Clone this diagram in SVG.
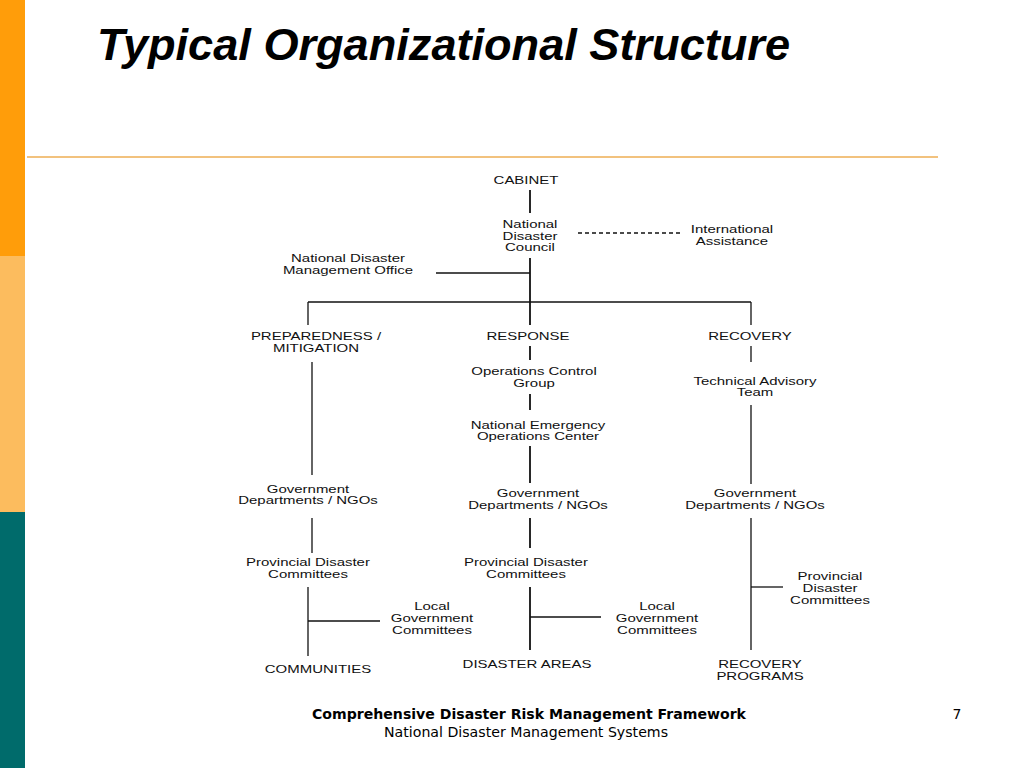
<svg xmlns="http://www.w3.org/2000/svg" width="1024" height="768" viewBox="0 0 1024 768">
<style>
.t{font-family:"Liberation Sans",Arial,sans-serif;font-size:11px;fill:#111;text-anchor:middle}
.c{stroke:#111;stroke-width:1.3;fill:none}
.k{stroke-width:1.8}
.d{stroke-dasharray:4 3}
</style>
<rect width="1024" height="768" fill="#fff"/>
<g id="sidebar">
<rect x="0" y="0" width="25" height="256" fill="#FF9D0A"/>
<rect x="0" y="256" width="25" height="256" fill="#FCBC5E"/>
<rect x="0" y="512" width="25" height="256" fill="#006B6B"/>
</g>
<text x="97" y="60" font-family="'Liberation Sans',Arial,sans-serif" font-size="45" font-weight="bold" font-style="italic" fill="#000" textLength="693" lengthAdjust="spacingAndGlyphs">Typical Organizational Structure</text>
<line x1="27" y1="157" x2="938" y2="157" stroke="#F2C27E" stroke-width="2"/>
<g id="connectors">
<line class="c k" x1="530" y1="190" x2="530" y2="213"/>
<line class="c d" x1="578" y1="233" x2="681" y2="233"/>
<line class="c k" x1="530" y1="258" x2="530" y2="325"/>
<line class="c" x1="436" y1="273" x2="530" y2="273"/>
<line class="c" x1="308" y1="302" x2="751" y2="302"/>
<line class="c" x1="308" y1="302" x2="308" y2="325"/>
<line class="c" x1="751" y1="302" x2="751" y2="325"/>
<line class="c k" x1="530" y1="346" x2="530" y2="360"/>
<line class="c k" x1="530" y1="394" x2="530" y2="410"/>
<line class="c k" x1="530" y1="446" x2="530" y2="483"/>
<line class="c k" x1="530" y1="518" x2="530" y2="548"/>
<line class="c k" x1="530" y1="587" x2="530" y2="650"/>
<line class="c" x1="530" y1="617" x2="601" y2="617"/>
<line class="c" x1="312" y1="362" x2="312" y2="475"/>
<line class="c" x1="312" y1="518" x2="312" y2="553"/>
<line class="c" x1="308" y1="587" x2="308" y2="656"/>
<line class="c" x1="308" y1="621" x2="380" y2="621"/>
<line class="c" x1="751" y1="346" x2="751" y2="362"/>
<line class="c" x1="751" y1="405" x2="751" y2="484"/>
<line class="c" x1="751" y1="518" x2="751" y2="650"/>
<line class="c" x1="751" y1="587" x2="783" y2="587"/>
</g>
<g id="cabinet"><text class="t" transform="translate(526 184) scale(1.36 1)">CABINET</text></g>
<g id="ndc"><text class="t" transform="translate(530 228) scale(1.36 1)">National</text><text class="t" transform="translate(530 240) scale(1.36 1)">Disaster</text><text class="t" transform="translate(530 251) scale(1.36 1)">Council</text></g>
<g id="intl"><text class="t" transform="translate(732 233) scale(1.36 1)">International</text><text class="t" transform="translate(732 245) scale(1.36 1)">Assistance</text></g>
<g id="ndmo"><text class="t" transform="translate(348 262) scale(1.36 1)">National Disaster</text><text class="t" transform="translate(348 274) scale(1.36 1)">Management Office</text></g>
<g id="prep"><text class="t" transform="translate(316 340) scale(1.36 1)">PREPAREDNESS /</text><text class="t" transform="translate(316 352) scale(1.36 1)">MITIGATION</text></g>
<g id="response"><text class="t" transform="translate(528 340) scale(1.36 1)">RESPONSE</text></g>
<g id="recovery"><text class="t" transform="translate(750 340) scale(1.36 1)">RECOVERY</text></g>
<g id="ocg"><text class="t" transform="translate(534 375) scale(1.36 1)">Operations Control</text><text class="t" transform="translate(534 387) scale(1.36 1)">Group</text></g>
<g id="neoc"><text class="t" transform="translate(538 429) scale(1.36 1)">National Emergency</text><text class="t" transform="translate(538 440) scale(1.36 1)">Operations Center</text></g>
<g id="tat"><text class="t" transform="translate(755 385) scale(1.36 1)">Technical Advisory</text><text class="t" transform="translate(755 396) scale(1.36 1)">Team</text></g>
<g id="gov1"><text class="t" transform="translate(308 493) scale(1.36 1)">Government</text><text class="t" transform="translate(308 504) scale(1.36 1)">Departments / NGOs</text></g>
<g id="gov2"><text class="t" transform="translate(538 497) scale(1.36 1)">Government</text><text class="t" transform="translate(538 509) scale(1.36 1)">Departments / NGOs</text></g>
<g id="gov3"><text class="t" transform="translate(755 497) scale(1.36 1)">Government</text><text class="t" transform="translate(755 509) scale(1.36 1)">Departments / NGOs</text></g>
<g id="pdc1"><text class="t" transform="translate(308 566) scale(1.36 1)">Provincial Disaster</text><text class="t" transform="translate(308 578) scale(1.36 1)">Committees</text></g>
<g id="pdc2"><text class="t" transform="translate(526 566) scale(1.36 1)">Provincial Disaster</text><text class="t" transform="translate(526 578) scale(1.36 1)">Committees</text></g>
<g id="pdc3"><text class="t" transform="translate(830 580) scale(1.36 1)">Provincial</text><text class="t" transform="translate(830 592) scale(1.36 1)">Disaster</text><text class="t" transform="translate(830 604) scale(1.36 1)">Committees</text></g>
<g id="lgc1"><text class="t" transform="translate(432 610) scale(1.36 1)">Local</text><text class="t" transform="translate(432 622) scale(1.36 1)">Government</text><text class="t" transform="translate(432 634) scale(1.36 1)">Committees</text></g>
<g id="lgc2"><text class="t" transform="translate(657 610) scale(1.36 1)">Local</text><text class="t" transform="translate(657 622) scale(1.36 1)">Government</text><text class="t" transform="translate(657 634) scale(1.36 1)">Committees</text></g>
<g id="communities"><text class="t" transform="translate(318 673) scale(1.36 1)">COMMUNITIES</text></g>
<g id="areas"><text class="t" transform="translate(527 668) scale(1.36 1)">DISASTER AREAS</text></g>
<g id="programs"><text class="t" transform="translate(760 668) scale(1.36 1)">RECOVERY</text><text class="t" transform="translate(760 680) scale(1.36 1)">PROGRAMS</text></g>
<g id="footer" font-family="'DejaVu Sans',Verdana,sans-serif" font-size="14" fill="#000">
<text x="312" y="719" font-weight="bold" textLength="434" lengthAdjust="spacingAndGlyphs">Comprehensive Disaster Risk Management Framework</text>
<text x="384" y="737" textLength="284" lengthAdjust="spacingAndGlyphs">National Disaster Management Systems</text>
<text x="957" y="719" text-anchor="middle">7</text>
</g>
</svg>
